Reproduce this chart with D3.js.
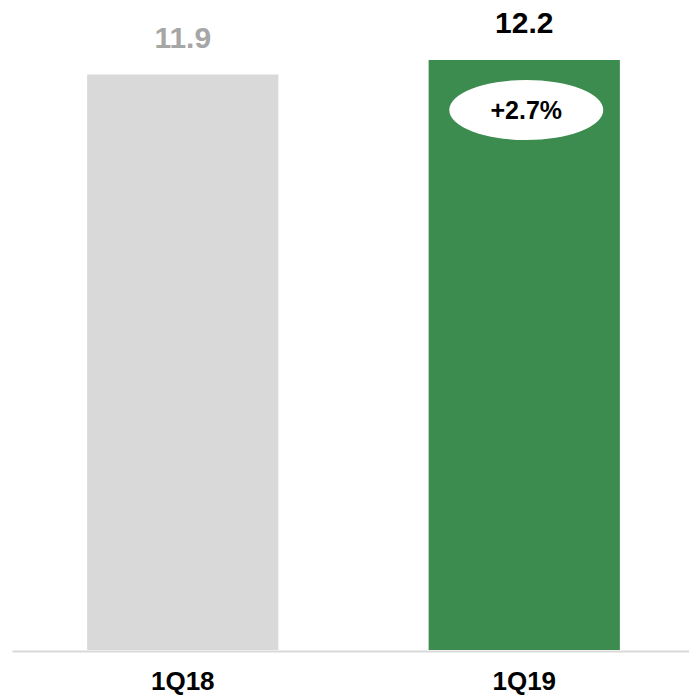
<!DOCTYPE html>
<html>
<head>
<meta charset="utf-8">
<script src="https://cdn.jsdelivr.net/npm/d3@7"></script>
<style>
  html, body { margin: 0; padding: 0; background: #ffffff; }
  svg { display: block; }
  text { font-family: Arial, "Liberation Sans", sans-serif; font-weight: bold; }
</style>
</head>
<body>
<svg id="chart" width="689" height="696"></svg>
<script>
// Quarterly values
const categories = ["1Q18", "1Q19"];
const values = [11.9, 12.2];
const valueLabels = ["11.9", "12.2"];
const barColors = ["#d9d9d9", "#3b8c4e"];
const valueLabelColors = ["#a6a6a6", "#000000"];
const growthLabel = "+2.7%";

const width = 689, height = 696;
const svg = d3.select("#chart");

const x = d3.scaleBand()
  .domain(categories)
  .range([12, 695])
  .paddingInner(0.44)
  .paddingOuter(0.22);

const y = d3.scaleLinear()
  .domain([0, 12.2])
  .range([650, 60]);

// Bars
svg.selectAll("rect.bar")
  .data(categories)
  .join("rect")
  .attr("class", "bar")
  .attr("x", d => x(d))
  .attr("width", x.bandwidth())
  .attr("y", (d, i) => y(values[i]))
  .attr("height", (d, i) => y(0) - y(values[i]))
  .attr("fill", (d, i) => barColors[i]);

// Baseline axis
const xAxis = d3.axisBottom(x).tickSize(0).tickPadding(21);
const axisG = svg.append("g")
  .attr("transform", `translate(0,${y(0) + 1})`)
  .call(xAxis);
axisG.select(".domain").attr("stroke", "#d9d9d9").attr("stroke-width", 2);
axisG.selectAll(".tick text")
  .attr("font-size", 26)
  .attr("font-family", "Arial, 'Liberation Sans', sans-serif")
  .attr("font-weight", "bold")
  .attr("fill", "#000000");

// Value labels above bars
svg.selectAll("text.value")
  .data(categories)
  .join("text")
  .attr("class", "value")
  .attr("x", d => x(d) + x.bandwidth() / 2)
  .attr("y", (d, i) => y(values[i]) - 27)
  .attr("text-anchor", "middle")
  .attr("font-size", 30)
  .attr("fill", (d, i) => valueLabelColors[i])
  .text((d, i) => valueLabels[i]);

// Growth callout on the latest bar
const last = categories[categories.length - 1];
const cx = x(last) + x.bandwidth() / 2 + 2;
const cy = y(values[values.length - 1]) + 50;
svg.append("ellipse")
  .attr("cx", cx)
  .attr("cy", cy)
  .attr("rx", 77)
  .attr("ry", 30)
  .attr("fill", "#ffffff");
svg.append("text")
  .attr("x", cx)
  .attr("y", cy + 9)
  .attr("text-anchor", "middle")
  .attr("font-size", 25)
  .attr("fill", "#000000")
  .text(growthLabel);
</script>
</body>
</html>
